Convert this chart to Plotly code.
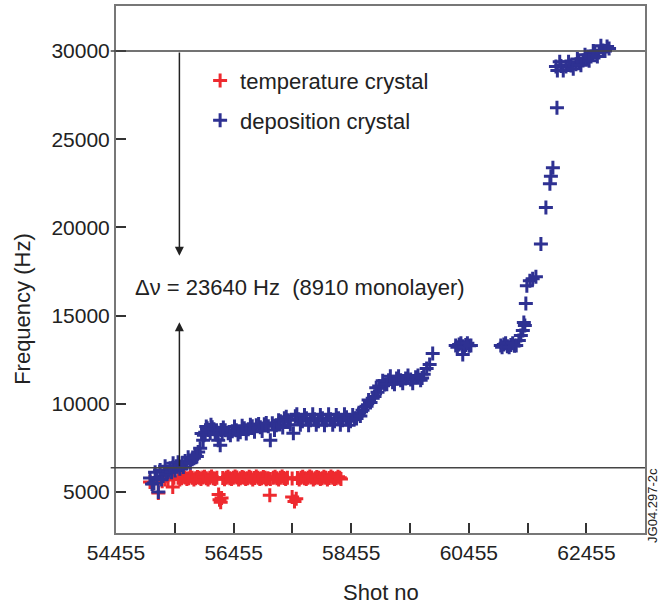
import plotly.graph_objects as go

# ---- data ----
temp_shot = [55034, 55085, 55175, 55240, 55290, 55340, 55420, 55440,
             55511, 55570, 55630, 55690, 55750, 55810, 55870, 55930, 55990, 56050, 56110, 56170,
             56200, 56215, 56235, 56250,
             56270, 56330, 56390, 56450, 56510, 56570, 56630, 56690, 56750, 56810, 56870, 56930, 56990, 57040,
             57080, 57070,
             57130, 57190, 57250, 57310, 57370, 57450,
             57450, 57490, 57520,
             57540, 57600, 57660, 57720, 57780, 57840, 57900, 57960, 58020, 58080, 58140, 58200, 58260,
             55540, 55600, 55660, 55720, 55780, 55840, 55900, 55960, 56020, 56080, 56140,
             56300, 56360, 56420, 56480, 56540, 56600, 56660, 56720, 56780, 56840, 56900, 56960, 57010,
             57160, 57220, 57280, 57340,
             57570, 57630, 57690, 57750, 57810, 57870, 57930, 57990, 58050, 58110, 58170, 58230, 58280]
temp_freq = [5550, 5450, 4930, 5600, 5700, 5660, 5270, 5800,
             5790, 5760, 5810, 5770, 5800, 5760, 5790, 5810, 5770, 5790, 5760, 5800,
             4850, 4550, 4400, 4650,
             5780, 5800, 5760, 5790, 5810, 5770, 5790, 5760, 5800, 5780, 5790, 5760, 5800, 5770,
             5720, 4800,
             5790, 5770, 5800, 5780, 5790, 5750,
             4700, 4450, 4600,
             5780, 5800, 5770, 5790, 5810, 5770, 5790, 5760, 5800, 5780, 5790, 5770, 5790,
             5700, 5850, 5720, 5860, 5700, 5840, 5720, 5850, 5700, 5860, 5720,
             5710, 5850, 5720, 5860, 5700, 5840, 5720, 5850, 5700, 5860, 5720, 5840, 5710,
             5850, 5700, 5860, 5720,
             5700, 5850, 5720, 5860, 5700, 5840, 5720, 5850, 5700, 5860, 5720, 5850, 5720]

dep_shot = [55034, 55068, 55120, 55175, 55205, 55256, 55290, 55341, 55375, 55426, 55477, 55511,
            55580, 55631, 55682, 55750, 55801, 55852, 55886, 55937, 55972, 56006, 56057, 56091,
            56142, 56193, 56227, 56261, 56312, 56363, 56432, 56500, 56568, 56636, 56704, 56772,
            56841, 56909, 56977, 57045, 57079, 57113, 57181, 57250, 57318, 57386, 57471, 57505,
            57556, 57624, 57693, 57761, 57829, 57897, 57965, 58033, 58102, 58170, 58238, 58306,
            58374, 58442, 58511, 58579, 58647, 58715, 58783, 58851, 58902, 58954, 59022, 59090,
            59158, 59226, 59295, 59380, 59465, 59550, 59635, 59687, 59737, 59788, 59840,
            60231, 60290, 60350, 60402, 60460, 60351,
            60998, 61050, 61110, 61169, 61230, 61305, 61339, 61373, 61407, 61390, 61424,
            61441, 61492, 61540, 61595, 61680, 61765, 61833, 61850, 61884, 61953,
            61936, 62021, 62106, 62191, 62276, 62327, 62396, 62464, 62532, 62600, 62668,
            62736, 62805, 62839,
            # second row of the dense bands
            55100, 55150, 55230, 55310, 55400, 55460, 55540, 55600, 55660, 55720, 55780, 55830,
            55910, 55950, 55990, 56030, 56070, 56120, 56170, 56240,
            56280, 56400, 56470, 56530, 56600, 56670, 56740, 56810, 56880, 56940, 57010, 57150,
            57220, 57290, 57350, 57420,
            57530, 57590, 57660, 57730, 57800, 57860, 57930, 58000, 58070, 58140, 58200, 58270,
            58340, 58410, 58480, 58545,
            58610, 58680, 58750, 58820, 58880, 58930, 58990, 59060, 59120, 59190, 59260, 59330,
            59420, 59500, 59590, 59660,
            60260, 60320, 60380, 60430, 60490, 61020, 61080, 61140, 61200, 61260,
            61960, 62000, 62060, 62150, 62230, 62300, 62360, 62430, 62500, 62570, 62640, 62700, 62770]
dep_freq = [5775, 5440, 6110, 4990, 6230, 5890, 6450, 6110, 6340, 6620, 6450, 6680,
            6620, 6740, 6960, 6850, 7080, 7250, 7470, 7920, 8380, 8600, 8320, 8660,
            8380, 7920, 7640, 8380, 8490, 8320, 8430, 8490, 8380, 8600, 8550, 8720,
            8770, 8660, 8830, 8720, 7920, 8890, 8770, 9000, 9170, 9060, 8320, 9280,
            9110, 9000, 9170, 9060, 9110, 9000, 9170, 9060, 9110, 9000, 9170, 9060,
            9230, 9000, 9170, 9400, 9620, 9850, 10070, 10410, 10640, 10870, 11090, 11320,
            11210, 11430, 11320, 11430, 11370, 11490, 11320, 11660, 12000, 12220, 12850,
            13300, 13350, 13250, 13320, 13280, 12790,
            13300, 13350, 13250, 13320, 13280, 13580, 13860, 14150, 14430, 14600, 15680,
            16690, 16970, 17090, 17200, 19060, 21130, 22470, 22900, 23380, 26780,
            29130, 29150, 29130, 29190, 29250, 29360, 29470, 29580, 29700, 29920, 29920,
            30030, 30260, 30150,
            5500, 5800, 5700, 6000, 6100, 6200, 6300, 6400, 6600, 6650, 6900, 7000,
            8300, 8200, 8700, 8500, 8800, 8550, 8250, 8500,
            8650, 8200, 8700, 8250, 8750, 8300, 8800, 8400, 8850, 8450, 8900, 8500,
            9050, 8650, 9250, 8800,
            9400, 8800, 9350, 8780, 9400, 8800, 9350, 8780, 9400, 8800, 9350, 8800,
            9400, 8780, 9350, 9150,
            9300, 9800, 10200, 10300, 10900, 11000, 11300, 11100, 11550, 11100, 11550, 11150,
            11600, 11150, 11600, 11450,
            13200, 13420, 13200, 13420, 13300, 13200, 13420, 13200, 13420, 13300,
            28900, 29400, 28900, 29400, 29000, 29550, 29200, 29800, 29450, 30000, 29700, 30300, 30000]

x_ticks = [54455, 55455, 56455, 57455, 58455, 59455, 60455, 61455, 62455, 63455]
x_ticktext = ["54455", "", "56455", "", "58455", "", "60455", "", "62455", ""]
y_ticks = [5000, 10000, 15000, 20000, 25000, 30000]
y_ticktext = ["5000", "10000", "15000", "20000", "25000", "30000"]

final_freq = 30000
start_freq = 6360
arrow_shot = 55533
arrow_down_tip = 18390
arrow_up_tip = 14615

RED = "#EE2A2F"
BLUE = "#2E3192"
FONT = "Liberation Sans, Arial, Helvetica, sans-serif"
TXT = "#222222"

fig = go.Figure()
fig.add_trace(go.Scatter(
    x=temp_shot, y=temp_freq, mode="markers", name="temperature crystal",
    legendgroup="a",
    marker=dict(symbol="cross-thin", size=10, color=RED, line=dict(color=RED, width=3))))
fig.add_trace(go.Scatter(
    x=dep_shot, y=dep_freq, mode="markers", name="deposition crystal",
    legendgroup="b",
    marker=dict(symbol="cross-thin", size=10, color=BLUE, line=dict(color=BLUE, width=3))))

# reference lines
for yv in (final_freq, start_freq):
    fig.add_shape(type="line", xref="paper", yref="y", x0=-0.01, x1=1, y0=yv, y1=yv,
                  line=dict(color="#444444", width=1.5))

# arrows
fig.add_annotation(x=arrow_shot, y=arrow_down_tip, ax=arrow_shot, ay=final_freq,
                   xref="x", yref="y", axref="x", ayref="y", text="", showarrow=True,
                   arrowhead=2, arrowsize=1.2, arrowwidth=1.5, arrowcolor=TXT)
fig.add_annotation(x=arrow_shot, y=arrow_up_tip, ax=arrow_shot, ay=start_freq,
                   xref="x", yref="y", axref="x", ayref="y", text="", showarrow=True,
                   arrowhead=2, arrowsize=1.2, arrowwidth=1.5, arrowcolor=TXT)

fig.add_annotation(x=54745, y=16600, xref="x", yref="y", xanchor="left", yanchor="middle",
                   text="\u0394\u03bd = 23640 Hz\u00a0\u00a0(8910 monolayer)", showarrow=False,
                   font=dict(family=FONT, size=22, color=TXT))

fig.add_annotation(x=-0.178, y=0.425, xref="paper", yref="paper", text="Frequency (Hz)",
                   xanchor="center", yanchor="middle",
                   textangle=-90, showarrow=False, font=dict(family=FONT, size=22, color=TXT))
fig.add_annotation(x=0.5, y=-0.112, xref="paper", yref="paper", text="Shot no",
                   xanchor="center", yanchor="middle",
                   showarrow=False, font=dict(family=FONT, size=22, color=TXT))
fig.add_annotation(x=1.013, y=0.053, xref="paper", yref="paper", text="JG04.297-2c",
                   xanchor="center", yanchor="middle",
                   textangle=-90, showarrow=False, font=dict(family=FONT, size=13, color=TXT))

fig.update_xaxes(range=[54455, 63450], tickvals=x_ticks, ticktext=x_ticktext,
                 ticks="inside", ticklen=10, tickwidth=1.5, tickcolor="#333333",
                 showline=True, linecolor="#777777", linewidth=2, mirror=True,
                 showgrid=False, zeroline=False,
                 tickfont=dict(family=FONT, size=21, color=TXT))
fig.update_yaxes(range=[2660, 32560], tickvals=y_ticks, ticktext=y_ticktext,
                 ticks="inside", ticklen=10, tickwidth=1.5, tickcolor="#333333",
                 showline=True, linecolor="#777777", linewidth=2, mirror=True,
                 showgrid=False, zeroline=False,
                 tickfont=dict(family=FONT, size=21, color=TXT))

fig.update_layout(
    width=665, height=606,
    margin=dict(l=116, r=20, t=4, b=73),
    plot_bgcolor="white", paper_bgcolor="white",
    font=dict(family=FONT, color=TXT),
    showlegend=True,
    legend=dict(x=0.159, y=0.898, xanchor="left", yanchor="top",
                font=dict(family=FONT, size=22, color=TXT),
                bgcolor="rgba(0,0,0,0)", tracegroupgap=8),
)

fig.write_html("out.html")
